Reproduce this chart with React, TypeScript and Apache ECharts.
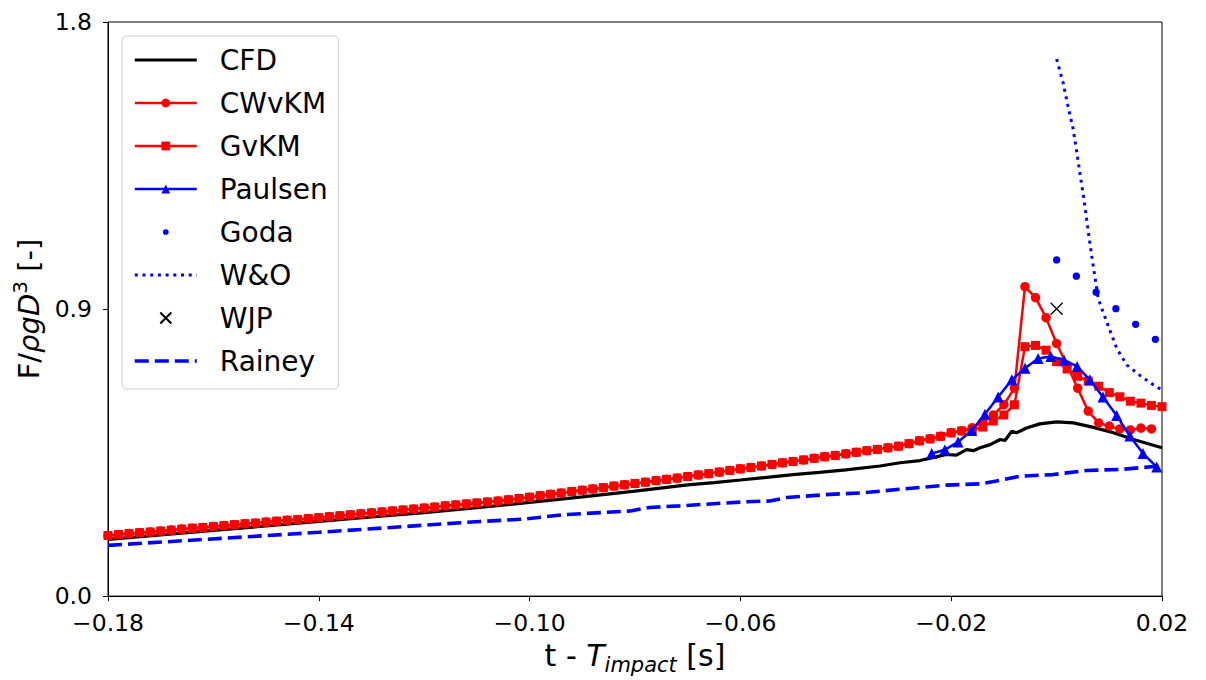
import React, { useEffect, useRef } from 'react';
import * as echarts from 'echarts';

const FONT = '"DejaVu Sans", sans-serif';

// ---- data ----
const tStart = -0.18;
const tStep = 0.002;

// CWvKM and GvKM coincide up to t = -0.018 (k = 0..81)
const redShared = [
  0.190, 0.193, 0.196, 0.199, 0.201, 0.204, 0.207, 0.210, 0.213, 0.215,
  0.218, 0.221, 0.224, 0.227, 0.229, 0.232, 0.235, 0.238, 0.240, 0.243,
  0.246, 0.249, 0.252, 0.255, 0.258, 0.261, 0.264, 0.267, 0.270, 0.273,
  0.276, 0.279, 0.283, 0.286, 0.289, 0.292, 0.295, 0.298, 0.302, 0.306,
  0.310, 0.315, 0.319, 0.323, 0.328, 0.332, 0.336, 0.340, 0.345, 0.349,
  0.353, 0.357, 0.362, 0.366, 0.370, 0.375, 0.380, 0.384, 0.389, 0.394,
  0.399, 0.403, 0.408, 0.413, 0.418, 0.422, 0.427, 0.432, 0.437, 0.441,
  0.446, 0.451, 0.456, 0.460, 0.465, 0.470, 0.478, 0.487, 0.493, 0.501,
  0.512, 0.518,
];
const cwvkmTail = [
  0.528, 0.546, 0.568, 0.600, 0.652, 0.970, 0.936, 0.873, 0.792, 0.724,
  0.652, 0.580, 0.543, 0.533, 0.524, 0.521, 0.527, 0.524,
];
const gvkmTail = [
  0.522, 0.530, 0.549, 0.568, 0.600, 0.782, 0.786, 0.771, 0.735, 0.712,
  0.689, 0.674, 0.658, 0.638, 0.625, 0.611, 0.605, 0.598, 0.594,
];

const cfdTimes = [
  -0.18, -0.17, -0.16, -0.15, -0.14, -0.13, -0.12, -0.11, -0.10, -0.09,
  -0.08, -0.07, -0.065, -0.06, -0.05, -0.045, -0.04, -0.0335, -0.0297, -0.0259,
  -0.0235, -0.0209, -0.019, -0.0171, -0.0158, -0.0145, -0.0126, -0.0107, -0.0098, -0.0085,
  -0.0076, -0.0057, -0.0032, 0.0, 0.0032, 0.007, 0.0108, 0.0146, 0.02,
];
const cfdValues = [
  0.178, 0.192, 0.206, 0.220, 0.234, 0.248, 0.262, 0.277, 0.294, 0.311,
  0.329, 0.349, 0.356, 0.364, 0.381, 0.388, 0.396, 0.408, 0.418, 0.425,
  0.434, 0.444, 0.442, 0.459, 0.456, 0.465, 0.475, 0.491, 0.488, 0.517,
  0.512, 0.527, 0.540, 0.546, 0.543, 0.529, 0.512, 0.491, 0.465,
];

const paulsenTimes = [
  -0.0237, -0.0212, -0.0187, -0.0161, -0.0136, -0.0111, -0.0085, -0.0060, -0.0035, -0.0011,
  0.0014, 0.0039, 0.0063, 0.0088, 0.0114, 0.0139, 0.0164, 0.0190,
];
const paulsenValues = [
  0.447, 0.459, 0.483, 0.519, 0.570, 0.624, 0.678, 0.714, 0.745, 0.751,
  0.740, 0.720, 0.678, 0.624, 0.566, 0.502, 0.447, 0.405,
];

const godaTimes = [0.0, 0.00375, 0.0075, 0.01125, 0.015, 0.01875];
const godaValues = [1.054, 1.003, 0.953, 0.901, 0.852, 0.805];

const woTimes = [
  0.0, 0.0012, 0.0021, 0.0031, 0.0038, 0.0044, 0.0051, 0.0057, 0.0062, 0.0067,
  0.0079, 0.0095, 0.0114, 0.0133, 0.0158, 0.0184, 0.02,
];
const woValues = [
  1.684, 1.612, 1.541, 1.468, 1.395, 1.328, 1.255, 1.182, 1.120, 1.063,
  0.933, 0.860, 0.777, 0.725, 0.692, 0.662, 0.646,
];

const wjpTimes = [0.0];
const wjpValues = [0.901];

const raineyTimes = [
  -0.18, -0.14, -0.1094, -0.1013, -0.0937, -0.0809, -0.0772, -0.0715, -0.0588, -0.0544,
  -0.0512, -0.043, -0.0367, -0.0297, -0.0209, -0.0145, -0.0114, -0.0069, -0.0007, 0.0057,
  0.012, 0.019, 0.02,
];
const raineyValues = [
  0.159, 0.200, 0.234, 0.241, 0.255, 0.267, 0.278, 0.283, 0.296, 0.298,
  0.309, 0.319, 0.324, 0.335, 0.348, 0.352, 0.361, 0.376, 0.381, 0.394,
  0.397, 0.407, 0.409,
];

const xTicks = [-0.18, -0.14, -0.10, -0.06, -0.02, 0.02];
const seriesNames = ['CFD', 'CWvKM', 'GvKM', 'Paulsen', 'Goda', 'W&O', 'WJP', 'Rainey'];
const lineOnlyNames = ['CFD', 'W&O', 'Rainey'];

// ---- helpers ----
const pair = (ts: number[], vs: number[]) => ts.map((t, i) => [t, vs[i]]);
const gridTimes = (n: number) =>
  Array.from({ length: n }, (_, i) => Number((tStart + tStep * i).toFixed(4)));

const cwvkmValues = redShared.concat(cwvkmTail);
const gvkmValues = redShared.concat(gvkmTail);

const GODA_SYMBOL =
  'path://M-10,-10M10,10M0,-5.2A5.2,5.2,0,1,1,0,5.2A5.2,5.2,0,1,1,0,-5.2Z';
const X_SYMBOL = 'path://M0,0L10,10M10,0L0,10';

const RED = '#ff0000';
const BLUE = '#0000ff';

function buildOption(): any {
  return {
    animation: false,
    backgroundColor: '#ffffff',
    textStyle: { fontFamily: FONT },
    grid: {
      left: 108,
      right: 44,
      top: 22,
      bottom: 81,
      show: true,
      borderColor: '#000',
      borderWidth: 1,
      backgroundColor: 'transparent',
    },
    legend: {
      orient: 'vertical',
      left: 122,
      top: 36,
      itemWidth: 62,
      itemHeight: 11,
      itemGap: 13,
      padding: [9, 11, 13, 11],
      backgroundColor: 'rgba(255,255,255,0.8)',
      borderColor: '#cccccc',
      borderWidth: 1,
      borderRadius: 5,
      selectedMode: false,
      lineStyle: { width: 'inherit' },
      textStyle: {
        fontSize: 28,
        fontFamily: FONT,
        color: '#000',
        lineHeight: 30,
        padding: [0, 0, 0, 18],
      },
      data: seriesNames.map((n) =>
        lineOnlyNames.includes(n) ? { name: n, itemStyle: { opacity: 0 } } : { name: n }
      ),
    },
    xAxis: {
      type: 'value',
      min: -0.18,
      max: 0.02,
      name: '{a|t - }{b|T}{c|impact}{a| [s]}',
      nameLocation: 'middle',
      nameGap: 38,
      nameTextStyle: {
        color: '#000',
        fontFamily: FONT,
        fontSize: 30,
        rich: {
          a: { fontSize: 30, fontFamily: FONT, color: '#000', lineHeight: 40, verticalAlign: 'middle' },
          b: { fontSize: 30, fontFamily: FONT, color: '#000', fontStyle: 'italic', lineHeight: 40, verticalAlign: 'middle' },
          c: { fontSize: 21, fontFamily: FONT, color: '#000', fontStyle: 'italic', lineHeight: 24, verticalAlign: 'bottom' },
        },
      },
      axisLine: { show: true, onZero: false, lineStyle: { color: '#000', width: 1 } },
      axisTick: { show: true, length: 5, customValues: xTicks, lineStyle: { color: '#000' } },
      axisLabel: {
        customValues: xTicks,
        fontSize: 23.5,
        fontFamily: FONT,
        color: '#000',
        margin: 15,
        formatter: (v: number) => (v < 0 ? '\u2212' : '') + Math.abs(v).toFixed(2),
      },
      splitLine: { show: false },
    },
    yAxis: {
      type: 'value',
      min: 0,
      max: 1.8,
      interval: 0.9,
      name: '{a|F/}{b|\u03c1gD}{s|3}{a| [-]}',
      nameLocation: 'middle',
      nameRotate: 90,
      nameGap: 52,
      nameTextStyle: {
        color: '#000',
        fontFamily: FONT,
        fontSize: 29,
        rich: {
          a: { fontSize: 29, fontFamily: FONT, color: '#000', lineHeight: 38, verticalAlign: 'middle' },
          b: { fontSize: 29, fontFamily: FONT, color: '#000', fontStyle: 'italic', lineHeight: 38, verticalAlign: 'middle' },
          s: { fontSize: 20, fontFamily: FONT, color: '#000', lineHeight: 24, verticalAlign: 'top' },
        },
      },
      axisLine: { show: true, onZero: false, lineStyle: { color: '#000', width: 1 } },
      axisTick: { show: true, length: 5, lineStyle: { color: '#000' } },
      axisLabel: {
        fontSize: 23.5,
        fontFamily: FONT,
        color: '#000',
        margin: 16,
        formatter: (v: number) => v.toFixed(1),
      },
      splitLine: { show: false },
    },
    series: [
      {
        name: 'CFD',
        type: 'line',
        data: pair(cfdTimes, cfdValues),
        symbol: 'none',
        lineStyle: { color: '#000', width: 3.2 },
        itemStyle: { color: '#000' },
        z: 2,
      },
      {
        name: 'CWvKM',
        type: 'line',
        data: pair(gridTimes(cwvkmValues.length), cwvkmValues),
        symbol: 'circle',
        symbolSize: 9.5,
        showAllSymbol: true,
        lineStyle: { color: RED, width: 2.5 },
        itemStyle: { color: RED },
        z: 3,
      },
      {
        name: 'GvKM',
        type: 'line',
        data: pair(gridTimes(gvkmValues.length), gvkmValues),
        symbol: 'rect',
        symbolSize: 9,
        showAllSymbol: true,
        lineStyle: { color: RED, width: 2.5 },
        itemStyle: { color: RED },
        z: 4,
      },
      {
        name: 'Paulsen',
        type: 'line',
        data: pair(paulsenTimes, paulsenValues),
        symbol: 'triangle',
        symbolSize: 11,
        lineStyle: { color: BLUE, width: 2.5 },
        itemStyle: { color: BLUE },
        z: 5,
      },
      {
        name: 'Goda',
        type: 'scatter',
        data: pair(godaTimes, godaValues),
        symbol: GODA_SYMBOL,
        symbolSize: 14,
        itemStyle: { color: BLUE, opacity: 1 },
        z: 6,
      },
      {
        name: 'W&O',
        type: 'line',
        data: pair(woTimes, woValues),
        symbol: 'none',
        lineStyle: { color: BLUE, width: 3, type: [3, 4.7], cap: 'butt' },
        itemStyle: { color: BLUE },
        z: 6,
      },
      {
        name: 'WJP',
        type: 'scatter',
        data: pair(wjpTimes, wjpValues),
        symbol: X_SYMBOL,
        symbolSize: 12,
        itemStyle: { color: 'transparent', borderColor: '#000', borderWidth: 1.3, opacity: 1 },
        z: 7,
      },
      {
        name: 'Rainey',
        type: 'line',
        data: pair(raineyTimes, raineyValues),
        symbol: 'none',
        lineStyle: { color: BLUE, width: 3.6, type: [14, 6], cap: 'butt' },
        itemStyle: { color: BLUE },
        z: 7,
      },
    ],
  };
}

export default function App() {
  const ref = useRef<HTMLDivElement>(null);
  useEffect(() => {
    if (!ref.current) return;
    const chart = echarts.init(ref.current, null, { renderer: 'svg' });
    chart.setOption(buildOption());
    return () => {
      chart.dispose();
    };
  }, []);
  return (
    <div
      ref={ref}
      style={{ position: 'fixed', left: 0, top: 0, width: 1206, height: 680, background: '#fff' }}
    />
  );
}
